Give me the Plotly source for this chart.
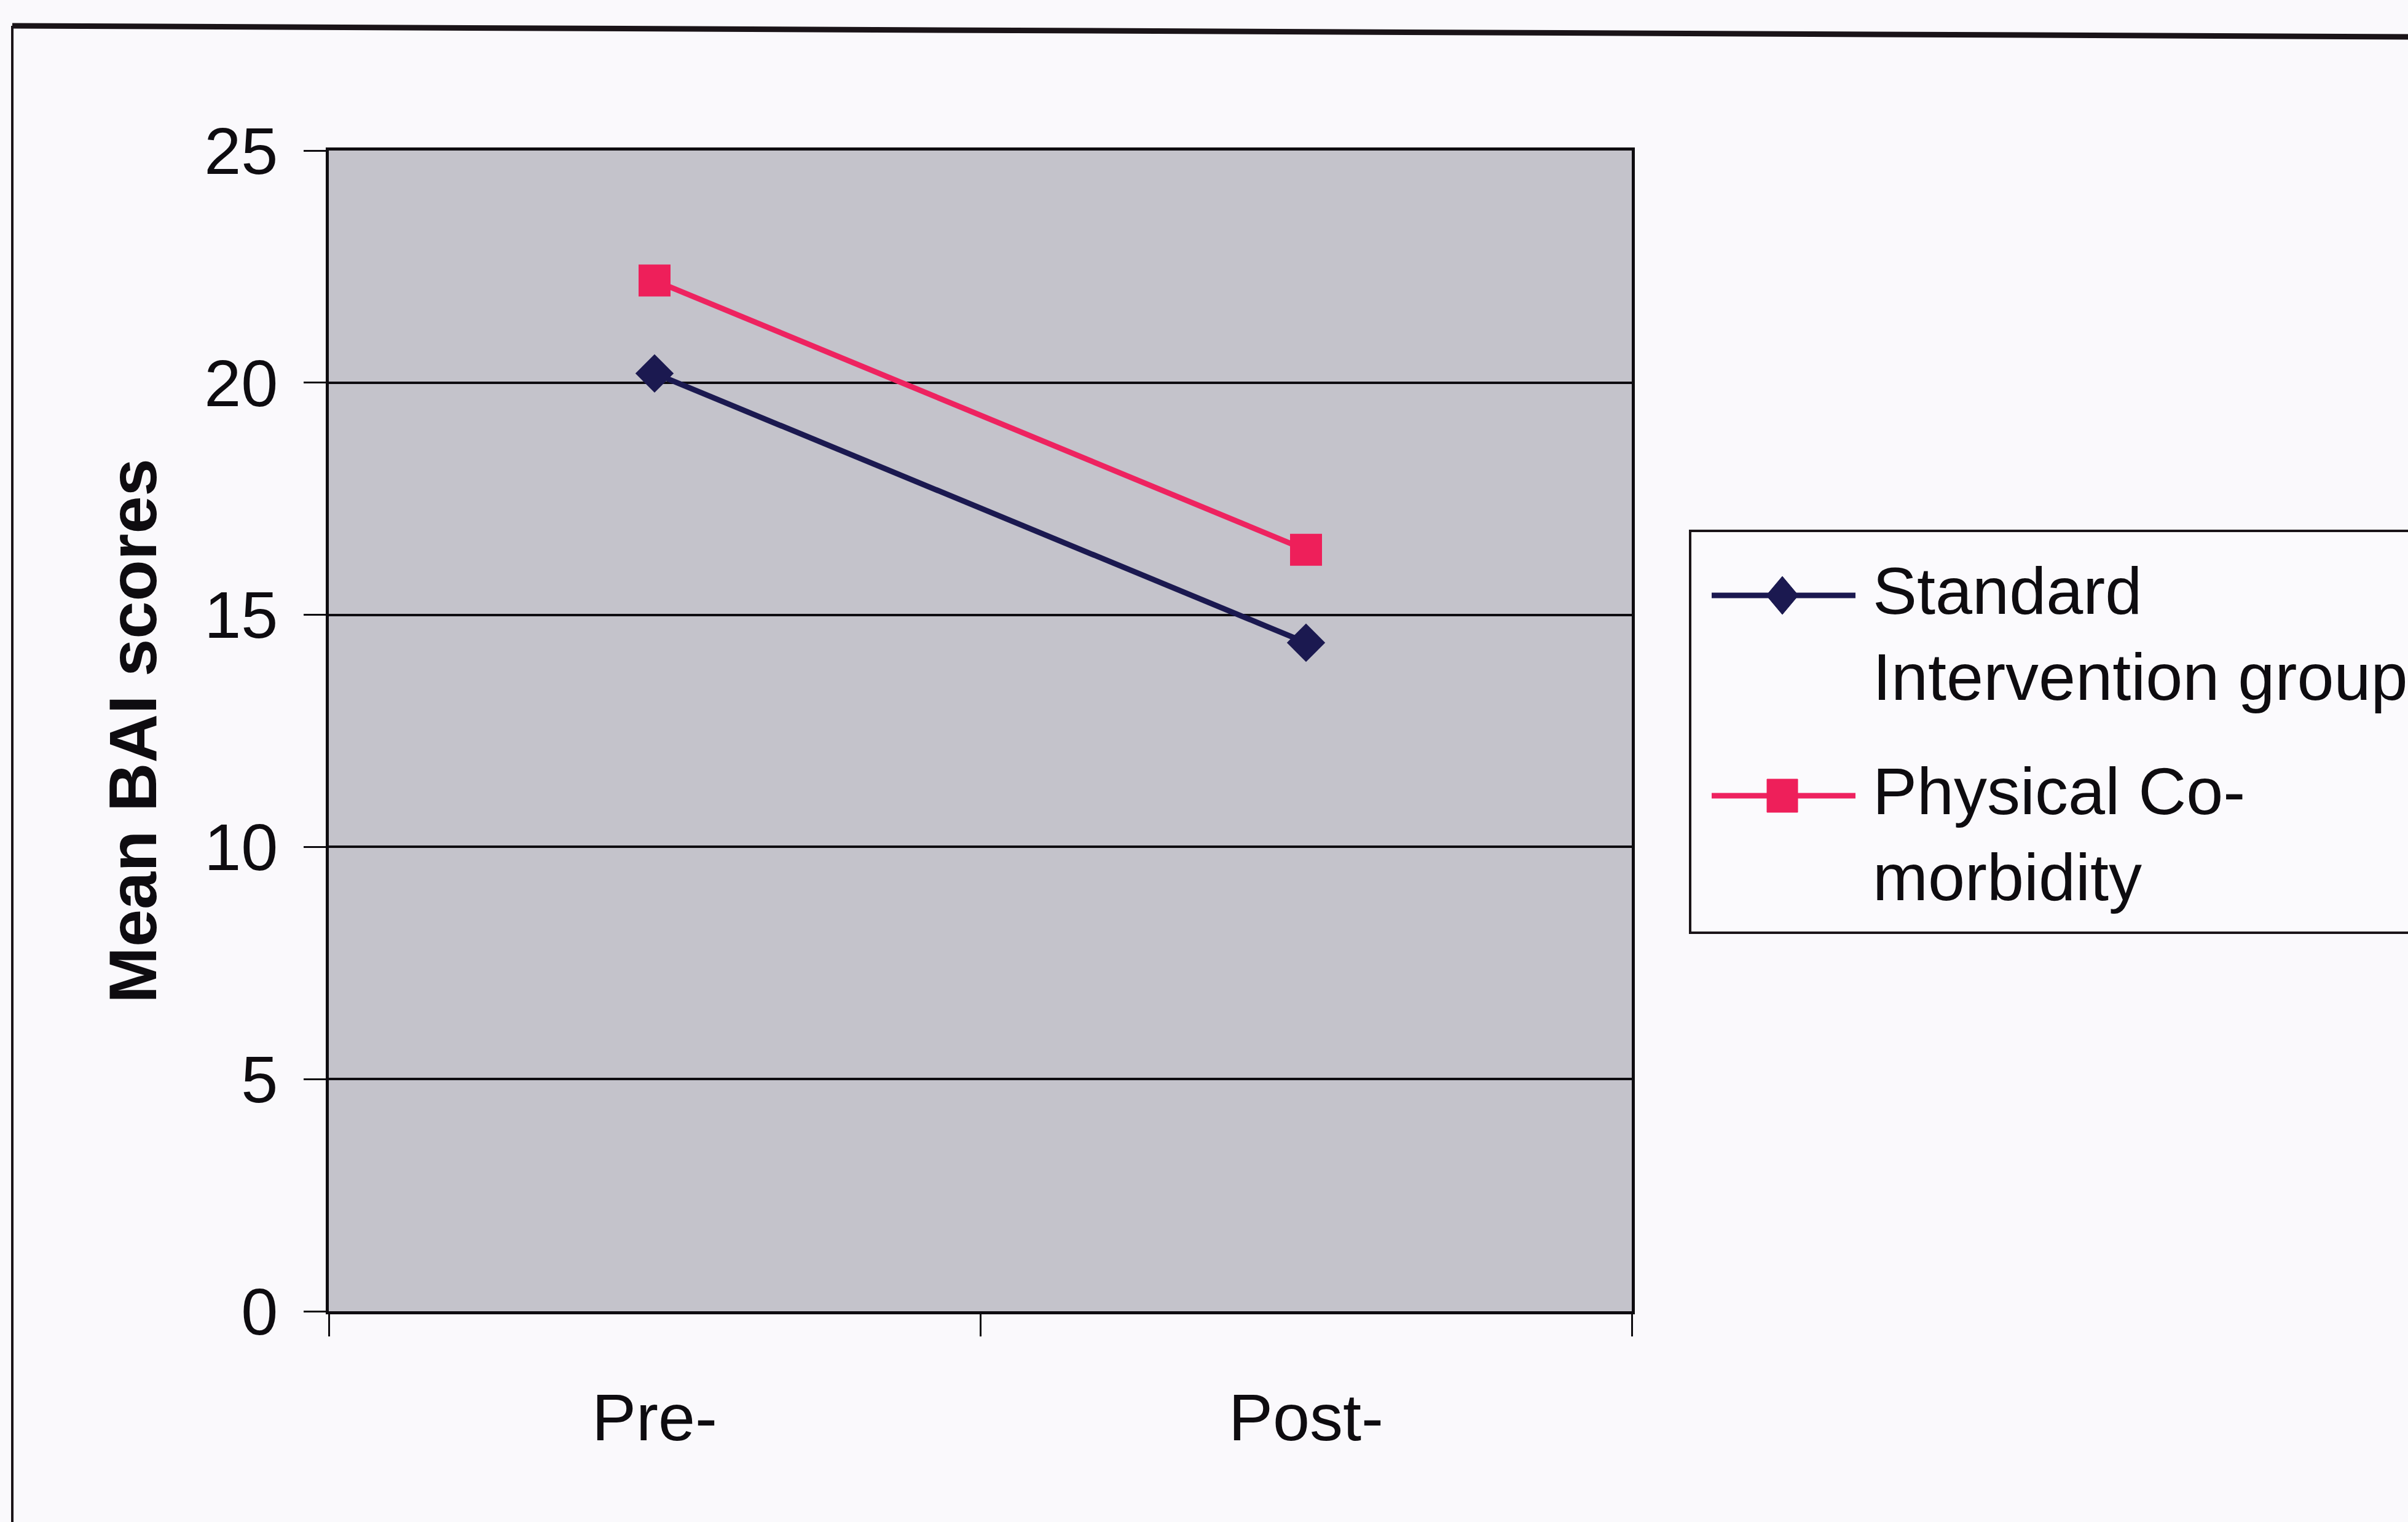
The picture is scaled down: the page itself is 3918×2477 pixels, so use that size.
import plotly.graph_objects as go

# ---- data ----
categories = ["Pre-", "Post-"]
series_names = ["Standard Intervention group", "Physical Co-morbidity"]
legend_labels = ["Standard<br>Intervention group", "Physical Co-<br>morbidity"]
standard_values = [20.2, 14.4]
physical_values = [22.2, 16.4]
y_ticks = [0, 5, 10, 15, 20, 25]
y_title = "Mean BAI scores"

# ---- style ----
W, H = 3918, 2477
FONT = "Liberation Sans, Arial, sans-serif"
NAVY = "#1b1950"
PINK = "#ee2360"
PINK_MK = "#ee1f5a"
FS = 108
TXT = "#0e0c10"

def px_x(p):
    return p / W

def px_y(p):
    return 1 - p / H

fig = go.Figure()
fig.add_trace(go.Scatter(
    x=categories, y=standard_values, name=series_names[0],
    mode="lines+markers",
    line=dict(color=NAVY, width=9),
    marker=dict(symbol="diamond", size=48, color=NAVY),
))
fig.add_trace(go.Scatter(
    x=categories, y=physical_values, name=series_names[1],
    mode="lines+markers",
    line=dict(color=PINK, width=9),
    marker=dict(symbol="square", size=52, color=PINK_MK),
))

plot_l, plot_r, plot_t, plot_b = 535, 2655, 245, 2134

fig.update_layout(
    width=W, height=H,
    margin=dict(l=0, r=0, t=0, b=0, pad=0, autoexpand=False),
    paper_bgcolor="#faf9fc",
    plot_bgcolor="#c4c3cb",
    showlegend=False,
    font=dict(family=FONT, size=FS, color=TXT),
    xaxis=dict(
        domain=[px_x(plot_l), px_x(plot_r)],
        type="category",
        range=[-0.5, len(categories) - 0.5],
        tickson="boundaries",
        ticks="outside", ticklen=36, tickwidth=3, tickcolor=TXT,
        showline=True, linecolor=TXT, linewidth=5, mirror=True,
        showgrid=False, zeroline=False,
        ticklabelstandoff=75,
        tickfont=dict(size=FS, color=TXT),
        automargin=False,
    ),
    yaxis=dict(
        domain=[px_y(plot_b), px_y(plot_t)],
        range=[0, 25],
        tickvals=y_ticks,
        ticks="outside", ticklen=36, tickwidth=3, tickcolor=TXT,
        showline=True, linecolor=TXT, linewidth=5, mirror=True,
        showgrid=True, gridcolor=TXT, gridwidth=4,
        zeroline=False,
        ticklabelstandoff=20,
        tickfont=dict(size=FS, color=TXT),
        title=dict(text="<b>" + y_title + "</b>", font=dict(size=110, color=TXT), standoff=42),
        automargin=False,
    ),
)

# outer chart frame (scanned page border)
fig.add_shape(type="line", xref="paper", yref="paper",
              x0=px_x(20), y0=px_y(42), x1=px_x(3930), y1=px_y(60),
              line=dict(color="#1a1418", width=9))
fig.add_shape(type="line", xref="paper", yref="paper",
              x0=px_x(20), y0=px_y(42), x1=px_x(20), y1=px_y(2490),
              line=dict(color="#1a1418", width=4))

# custom legend box
fig.add_shape(type="rect", xref="paper", yref="paper",
              x0=px_x(2750), y0=px_y(1518), x1=px_x(3990), y1=px_y(864),
              line=dict(color="#1a1418", width=4), fillcolor="#fbfafd")

legend_rows = [969, 1295]
legend_text_c = [1031, 1357]
colors = [NAVY, PINK]
mk_colors = [NAVY, PINK_MK]
for i in range(2):
    yy = px_y(legend_rows[i])
    fig.add_shape(type="line", xref="paper", yref="paper",
                  x0=px_x(2785), x1=px_x(3019), y0=yy, y1=yy,
                  line=dict(color=colors[i], width=9))
    if i == 0:
        fig.add_shape(type="path", xref="paper", yref="paper",
                      xsizemode="pixel", ysizemode="pixel",
                      xanchor=px_x(2900), yanchor=yy,
                      path="M-26,0 L0,-31 L26,0 L0,31 Z",
                      line=dict(color=mk_colors[i], width=1), fillcolor=mk_colors[i])
    else:
        fig.add_shape(type="rect", xref="paper", yref="paper",
                      xsizemode="pixel", ysizemode="pixel",
                      xanchor=px_x(2900), yanchor=yy,
                      x0=-25, x1=25, y0=-27, y1=27,
                      line=dict(color=mk_colors[i], width=1), fillcolor=mk_colors[i])
    fig.add_annotation(xref="paper", yref="paper",
                       x=px_x(3045), y=px_y(legend_text_c[i]),
                       xanchor="left", yanchor="middle", align="left",
                       showarrow=False, text=legend_labels[i],
                       font=dict(size=FS, color=TXT))

fig.write_html("out.html")
